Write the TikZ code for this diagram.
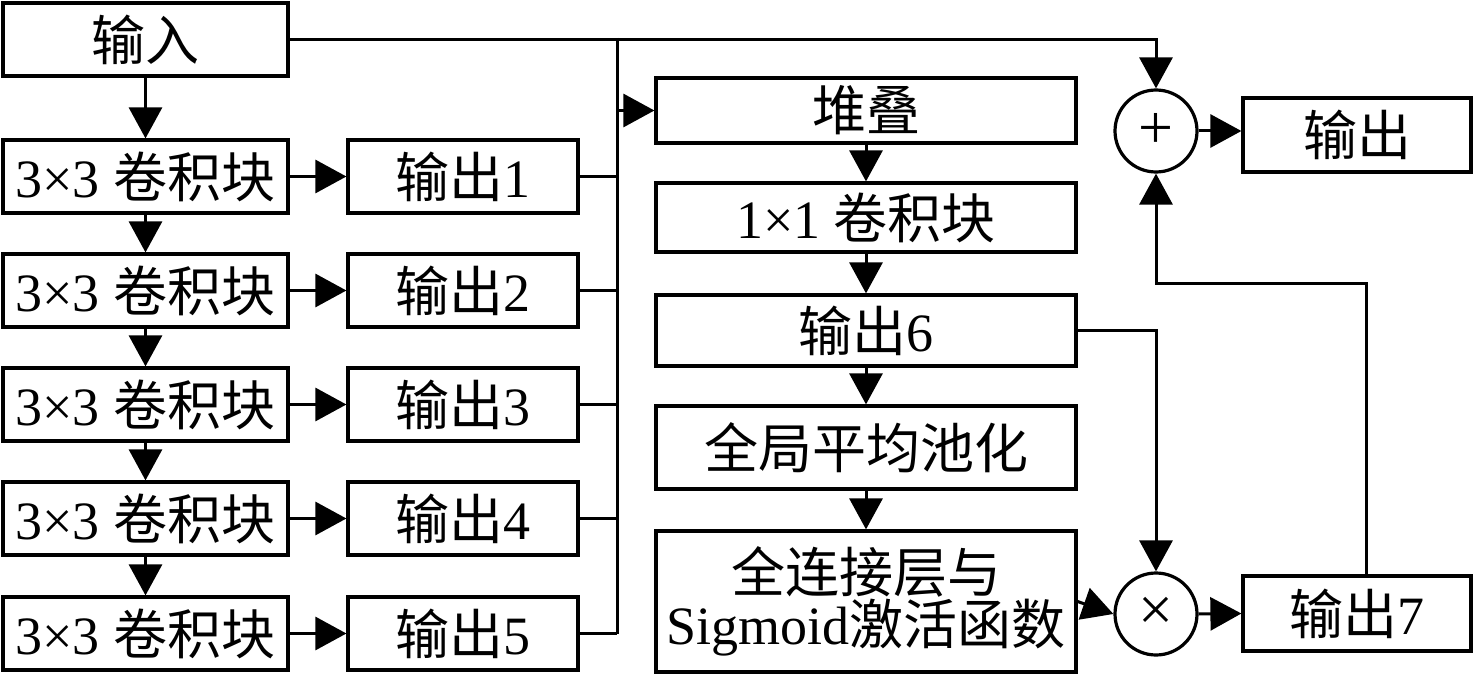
\documentclass[tikz,border=0pt]{standalone}
\usepackage{fontspec}
\setmainfont{Liberation Serif}
\newfontfamily\cjk{Noto Sans CJK SC}
\usetikzlibrary{arrows.meta,positioning,calc}
\tikzset{
  box/.style={draw, line width=3.2pt, rectangle, inner sep=0pt, align=center,
    font=\fontsize{54}{58}\selectfont},
  opcirc/.style={draw, line width=3.2pt, circle, minimum size=82pt, inner sep=0pt,
    font=\fontsize{62}{66}\selectfont},
  conn/.style={line width=3pt},
  arr/.style={line width=3pt, -{Triangle[length=31pt,width=33pt]}},
}
\begin{document}
\begin{tikzpicture}[x=1pt,y=-1pt]
\useasboundingbox (0,0) rectangle (1476,674);
% left column
\node[box, minimum width=285pt, minimum height=73pt] (in) at (145.5,39.5) {\cjk 输入};
\foreach \i/\y in {1/176.5,2/290.5,3/404.5,4/518.5,5/633.5}{
  \node[box, minimum width=285pt, minimum height=73pt] (c\i) at (145.5,\y) {3×3 {\cjk 卷积块}};
  \node[box, minimum width=230pt, minimum height=73pt] (o\i) at (463,\y) {{\cjk 输出}\i};
}
% middle column
\node[box, minimum width=420pt, minimum height=65pt] (stk) at (866,110.5) {\cjk 堆叠};
\node[box, minimum width=420pt, minimum height=69pt] (cv) at (866,217.5) {1×1 {\cjk 卷积块}};
\node[box, minimum width=420pt, minimum height=71pt] (o6) at (866,330.5) {{\cjk 输出}6};
\node[box, minimum width=420pt, minimum height=83pt] (gap) at (866,447.5) {\cjk 全局平均池化};
\node[box, minimum width=420pt, minimum height=141pt] (fc) at (866,601.5) {{\cjk 全连接层与}\\[-6pt]Sigmoid{\cjk 激活函数}};
% right column
\node[opcirc] (plus) at (1156,131) {+};
\node[opcirc] (times) at (1156,614) {×};
\node[box, minimum width=228pt, minimum height=74pt] (out) at (1357,135) {\cjk 输出};
\node[box, minimum width=228pt, minimum height=75pt] (o7) at (1357,613.5) {{\cjk 输出}7};
% coordinates
\coordinate (bt) at (617,38);
\coordinate (bb) at (617,633.5);
\coordinate (k) at (1156,283);
% connectors left
\draw[arr] (in.south) -- (c1.north);
\foreach \i/\j in {1/2,2/3,3/4,4/5}{
  \draw[arr] (c\i.south) -- (c\j.north);
}
\foreach \i in {1,...,5}{
  \draw[arr] (c\i.east) -- (o\i.west);
  \draw[conn] (o\i.east) -- (o\i.east -| bt);
}
\draw[conn] (bt) -- (bb);
\draw[arr] (in.east) -| (plus.north);
\draw[arr] (stk.west -| bt) -- (stk.west);
% middle chain
\draw[arr] (stk.south) -- (cv.north);
\draw[arr] (cv.south) -- (o6.north);
\draw[arr] (o6.south) -- (gap.north);
\draw[arr] (gap.south) -- (fc.north);
\draw[arr] (o6.east) -| (times.north);
\draw[arr] (fc.east) -- (times.west);
\draw[arr] (times.east) -- (o7.west);
\draw[arr] (plus.east) -- (plus.east -| out.west);
\draw[arr] ([xshift=9pt]o7.north) |- (k) -- (plus.south);
\end{tikzpicture}
\end{document}
